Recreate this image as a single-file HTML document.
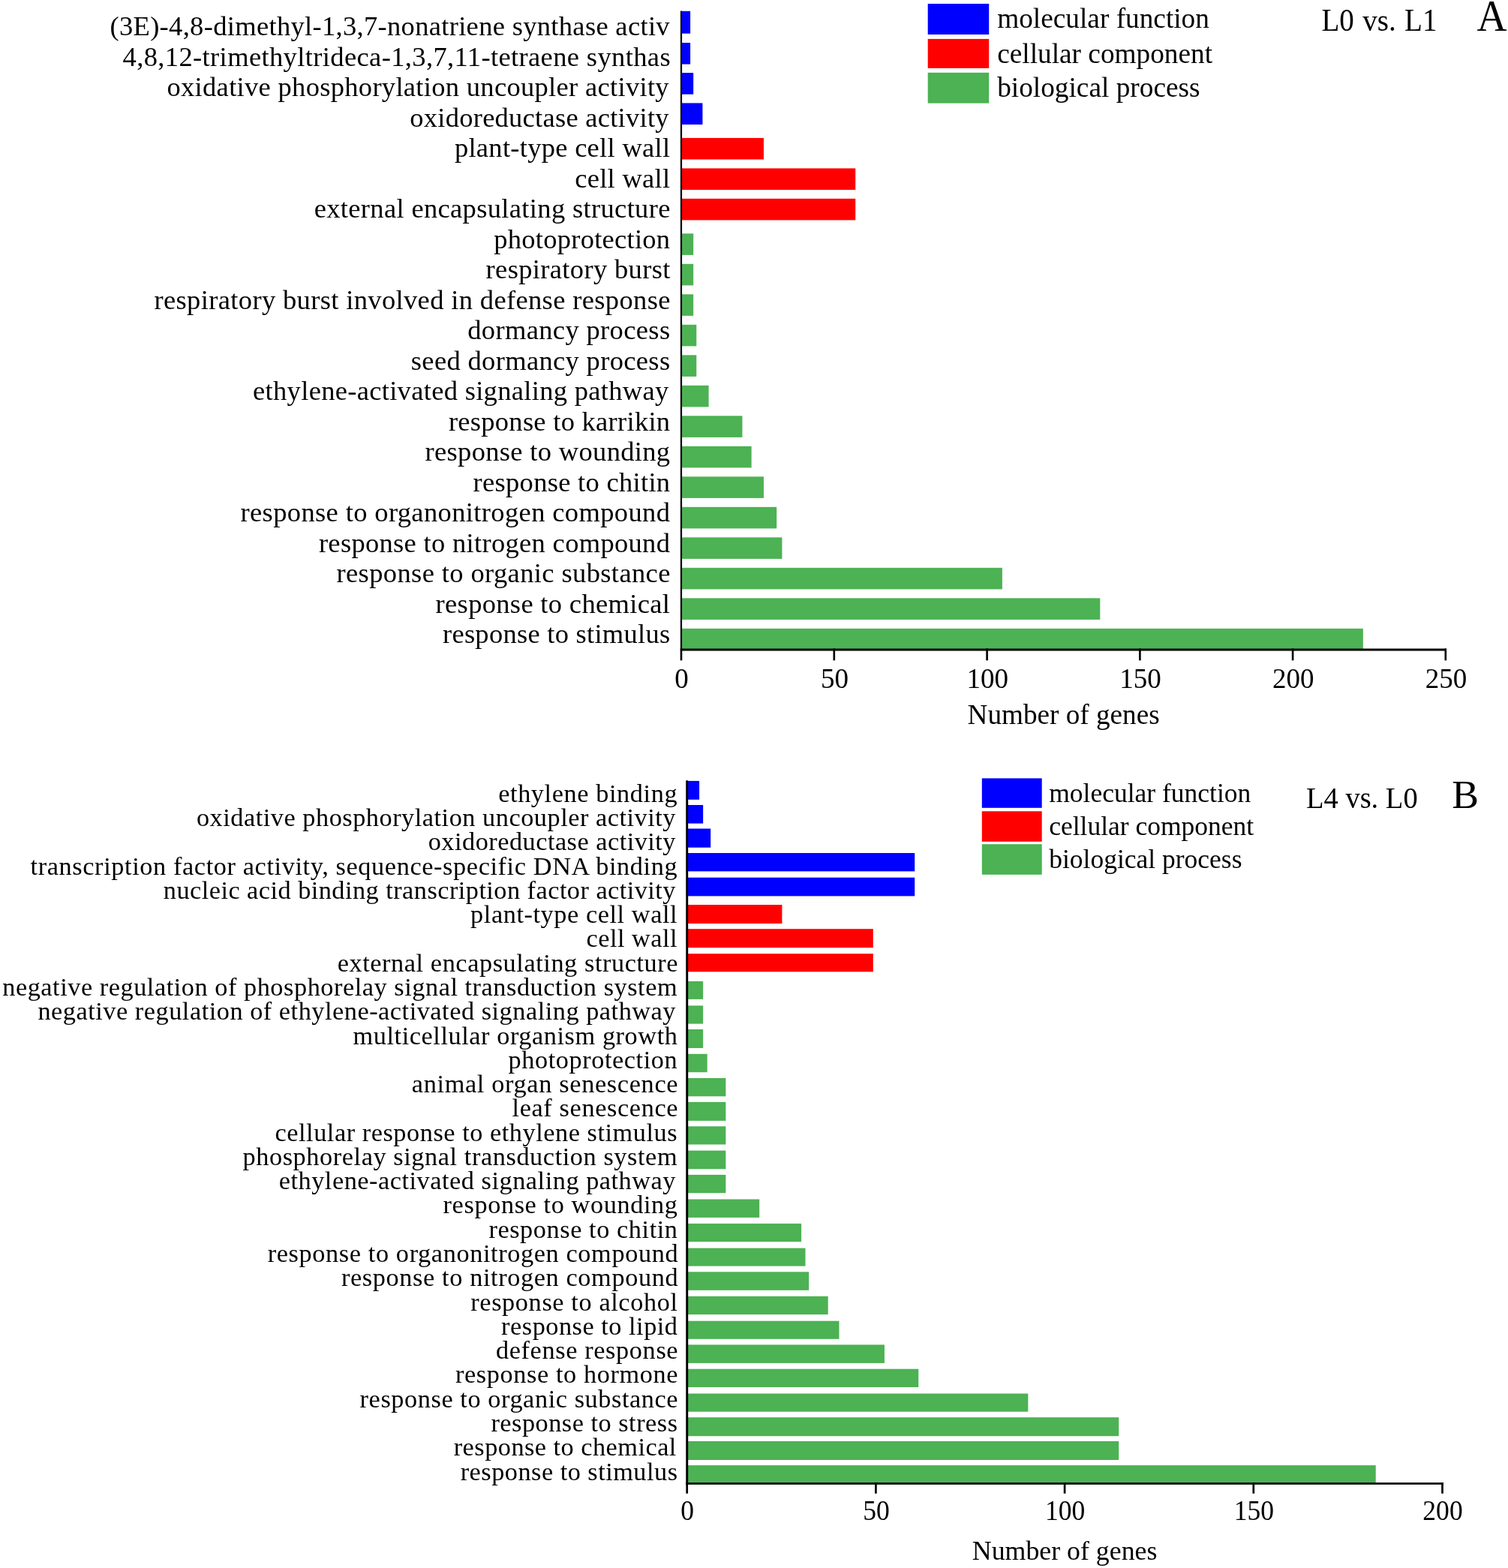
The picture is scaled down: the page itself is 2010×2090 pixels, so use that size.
<!DOCTYPE html>
<html lang="en">
<head>
<meta charset="utf-8">
<title>GO enrichment of differentially expressed genes</title>
<style>
html, body { margin: 0; padding: 0; background: #ffffff; }
body { width: 2010px; height: 2090px; overflow: hidden; }
svg { display: block; }
svg text { font-family: "Liberation Serif", serif; fill: #000000; }
</style>
</head>
<body>
<svg width="2010" height="2090" viewBox="0 0 2010 2090" role="img" aria-label="GO enrichment bar charts: L0 vs. L1 (A) and L4 vs. L0 (B)">
<rect x="0" y="0" width="2010" height="2090" fill="#ffffff"/>
<rect x="907.40" y="14.80" width="12.73" height="29.90" fill="#0000FF"/>
<rect x="907.40" y="57.00" width="12.73" height="28.60" fill="#0000FF"/>
<rect x="907.40" y="97.10" width="16.80" height="28.60" fill="#0000FF"/>
<rect x="907.40" y="137.40" width="29.03" height="28.60" fill="#0000FF"/>
<rect x="907.40" y="183.90" width="110.55" height="28.60" fill="#FF0000"/>
<rect x="907.40" y="224.40" width="232.83" height="28.60" fill="#FF0000"/>
<rect x="907.40" y="264.80" width="232.83" height="28.60" fill="#FF0000"/>
<rect x="907.40" y="311.30" width="16.80" height="28.60" fill="#4CB253"/>
<rect x="907.40" y="351.80" width="16.80" height="28.60" fill="#4CB253"/>
<rect x="907.40" y="392.30" width="16.80" height="28.60" fill="#4CB253"/>
<rect x="907.40" y="432.80" width="20.88" height="28.60" fill="#4CB253"/>
<rect x="907.40" y="473.30" width="20.88" height="28.60" fill="#4CB253"/>
<rect x="907.40" y="513.80" width="37.18" height="28.60" fill="#4CB253"/>
<rect x="907.40" y="554.30" width="82.02" height="28.60" fill="#4CB253"/>
<rect x="907.40" y="594.80" width="94.25" height="28.60" fill="#4CB253"/>
<rect x="907.40" y="635.30" width="110.55" height="28.60" fill="#4CB253"/>
<rect x="907.40" y="675.80" width="127.80" height="28.60" fill="#4CB253"/>
<rect x="907.40" y="716.30" width="135.01" height="28.60" fill="#4CB253"/>
<rect x="907.40" y="756.80" width="428.48" height="28.60" fill="#4CB253"/>
<rect x="907.40" y="797.30" width="558.91" height="28.60" fill="#4CB253"/>
<rect x="907.40" y="837.80" width="909.45" height="28.60" fill="#4CB253"/>
<rect x="906.90" y="14.60" width="2.20" height="852.90" fill="#000"/>
<rect x="906.90" y="864.50" width="1021.10" height="3.00" fill="#000"/>
<rect x="906.70" y="864.50" width="2.60" height="15.80" fill="#000"/>
<text x="908.60" y="917.20" font-size="37" text-anchor="middle">0</text>
<rect x="1110.50" y="864.50" width="2.60" height="15.80" fill="#000"/>
<text x="1112.40" y="917.20" font-size="37" text-anchor="middle">50</text>
<rect x="1314.30" y="864.50" width="2.60" height="15.80" fill="#000"/>
<text x="1316.20" y="917.20" font-size="37" text-anchor="middle">100</text>
<rect x="1518.10" y="864.50" width="2.60" height="15.80" fill="#000"/>
<text x="1520.00" y="917.20" font-size="37" text-anchor="middle">150</text>
<rect x="1721.80" y="864.50" width="2.60" height="15.80" fill="#000"/>
<text x="1723.70" y="917.20" font-size="37" text-anchor="middle">200</text>
<rect x="1925.50" y="864.50" width="2.60" height="15.80" fill="#000"/>
<text x="1927.40" y="917.20" font-size="37" text-anchor="middle">250</text>
<text x="1417.60" y="965.10" font-size="37.2" text-anchor="middle">Number of genes</text>
<text x="892.60" y="47.10" font-size="36.5" text-anchor="end" textLength="746.1" lengthAdjust="spacing">(3E)-4,8-dimethyl-1,3,7-nonatriene synthase activ</text>
<text x="893.60" y="87.61" font-size="36.5" text-anchor="end" textLength="730.0" lengthAdjust="spacing">4,8,12-trimethyltrideca-1,3,7,11-tetraene synthas</text>
<text x="891.60" y="128.12" font-size="36.5" text-anchor="end" textLength="669.1" lengthAdjust="spacing">oxidative phosphorylation uncoupler activity</text>
<text x="891.60" y="168.63" font-size="36.5" text-anchor="end" textLength="345.3" lengthAdjust="spacing">oxidoreductase activity</text>
<text x="893.10" y="209.14" font-size="36.5" text-anchor="end" textLength="287.2" lengthAdjust="spacing">plant-type cell wall</text>
<text x="893.10" y="249.65" font-size="36.5" text-anchor="end" textLength="126.9" lengthAdjust="spacing">cell wall</text>
<text x="893.40" y="290.16" font-size="36.5" text-anchor="end" textLength="474.7" lengthAdjust="spacing">external encapsulating structure</text>
<text x="893.10" y="330.67" font-size="36.5" text-anchor="end" textLength="234.8" lengthAdjust="spacing">photoprotection</text>
<text x="893.40" y="371.18" font-size="36.5" text-anchor="end" textLength="245.8" lengthAdjust="spacing">respiratory burst</text>
<text x="893.40" y="411.69" font-size="36.5" text-anchor="end" textLength="687.9" lengthAdjust="spacing">respiratory burst involved in defense response</text>
<text x="893.10" y="452.20" font-size="36.5" text-anchor="end" textLength="269.9" lengthAdjust="spacing">dormancy process</text>
<text x="893.10" y="492.71" font-size="36.5" text-anchor="end" textLength="345.3" lengthAdjust="spacing">seed dormancy process</text>
<text x="891.20" y="533.22" font-size="36.5" text-anchor="end" textLength="554.1" lengthAdjust="spacing">ethylene-activated signaling pathway</text>
<text x="893.10" y="573.73" font-size="36.5" text-anchor="end" textLength="295.2" lengthAdjust="spacing">response to karrikin</text>
<text x="893.10" y="614.24" font-size="36.5" text-anchor="end" textLength="326.6" lengthAdjust="spacing">response to wounding</text>
<text x="893.10" y="654.75" font-size="36.5" text-anchor="end" textLength="262.5" lengthAdjust="spacing">response to chitin</text>
<text x="892.90" y="695.26" font-size="36.5" text-anchor="end" textLength="572.4" lengthAdjust="spacing">response to organonitrogen compound</text>
<text x="892.90" y="735.77" font-size="36.5" text-anchor="end" textLength="468.0" lengthAdjust="spacing">response to nitrogen compound</text>
<text x="893.40" y="776.28" font-size="36.5" text-anchor="end" textLength="444.9" lengthAdjust="spacing">response to organic substance</text>
<text x="892.90" y="816.79" font-size="36.5" text-anchor="end" textLength="312.3" lengthAdjust="spacing">response to chemical</text>
<text x="893.20" y="857.30" font-size="36.5" text-anchor="end" textLength="303.2" lengthAdjust="spacing">response to stimulus</text>
<rect x="1236.70" y="5.00" width="81.50" height="41.00" fill="#0000FF"/>
<text x="1329.20" y="37.40" font-size="37.3" text-anchor="start">molecular function</text>
<rect x="1236.70" y="51.90" width="81.50" height="39.00" fill="#FF0000"/>
<text x="1329.20" y="83.50" font-size="37.3" text-anchor="start">cellular component</text>
<rect x="1236.70" y="96.80" width="81.50" height="40.80" fill="#4CB253"/>
<text x="1329.20" y="129.40" font-size="37.3" text-anchor="start">biological process</text>
<text transform="translate(1761.50 40.80) scale(0.9216 1)" font-size="42.4" text-anchor="start" word-spacing="1.7">L0 vs. L1</text>
<text transform="translate(1968.50 40.80) scale(0.9280 1)" font-size="59.8" text-anchor="start">A</text>
<rect x="914.80" y="1040.90" width="17.31" height="24.90" fill="#0000FF"/>
<rect x="914.80" y="1073.00" width="22.35" height="24.60" fill="#0000FF"/>
<rect x="914.80" y="1104.50" width="32.42" height="25.20" fill="#0000FF"/>
<rect x="914.80" y="1137.00" width="304.42" height="24.40" fill="#0000FF"/>
<rect x="914.80" y="1169.70" width="304.42" height="24.70" fill="#0000FF"/>
<rect x="914.80" y="1206.00" width="127.60" height="25.00" fill="#FF0000"/>
<rect x="914.80" y="1238.20" width="249.01" height="25.00" fill="#FF0000"/>
<rect x="914.80" y="1271.20" width="249.01" height="24.10" fill="#FF0000"/>
<rect x="914.80" y="1307.90" width="22.35" height="24.00" fill="#4CB253"/>
<rect x="914.80" y="1340.40" width="22.35" height="24.20" fill="#4CB253"/>
<rect x="914.80" y="1372.00" width="22.35" height="25.00" fill="#4CB253"/>
<rect x="914.80" y="1404.80" width="27.90" height="24.40" fill="#4CB253"/>
<rect x="914.80" y="1437.00" width="52.57" height="24.30" fill="#4CB253"/>
<rect x="914.80" y="1468.90" width="52.57" height="25.00" fill="#4CB253"/>
<rect x="914.80" y="1501.30" width="52.57" height="24.20" fill="#4CB253"/>
<rect x="914.80" y="1533.60" width="52.57" height="24.60" fill="#4CB253"/>
<rect x="914.80" y="1565.90" width="52.57" height="24.30" fill="#4CB253"/>
<rect x="914.80" y="1598.50" width="97.40" height="24.40" fill="#4CB253"/>
<rect x="914.80" y="1630.90" width="153.31" height="24.30" fill="#4CB253"/>
<rect x="914.80" y="1663.60" width="158.70" height="24.00" fill="#4CB253"/>
<rect x="914.80" y="1695.30" width="163.38" height="24.50" fill="#4CB253"/>
<rect x="914.80" y="1727.80" width="188.90" height="24.30" fill="#4CB253"/>
<rect x="914.80" y="1760.70" width="203.68" height="24.10" fill="#4CB253"/>
<rect x="914.80" y="1792.40" width="264.12" height="24.50" fill="#4CB253"/>
<rect x="914.80" y="1824.70" width="309.46" height="24.30" fill="#4CB253"/>
<rect x="914.80" y="1857.50" width="455.53" height="24.20" fill="#4CB253"/>
<rect x="914.80" y="1889.20" width="576.42" height="25.00" fill="#4CB253"/>
<rect x="914.80" y="1921.00" width="576.42" height="25.00" fill="#4CB253"/>
<rect x="914.80" y="1953.10" width="918.93" height="23.60" fill="#4CB253"/>
<rect x="914.30" y="1040.30" width="2.90" height="938.50" fill="#000"/>
<rect x="914.30" y="1976.10" width="1009.70" height="2.70" fill="#000"/>
<rect x="914.35" y="1976.10" width="2.70" height="14.60" fill="#000"/>
<text transform="translate(916.20 2026.00) scale(0.9600 1)" font-size="37" text-anchor="middle">0</text>
<rect x="1166.05" y="1976.10" width="2.70" height="14.60" fill="#000"/>
<text transform="translate(1167.90 2026.00) scale(0.9600 1)" font-size="37" text-anchor="middle">50</text>
<rect x="1417.75" y="1976.10" width="2.70" height="14.60" fill="#000"/>
<text transform="translate(1419.60 2026.00) scale(0.9600 1)" font-size="37" text-anchor="middle">100</text>
<rect x="1669.45" y="1976.10" width="2.70" height="14.60" fill="#000"/>
<text transform="translate(1671.30 2026.00) scale(0.9600 1)" font-size="37" text-anchor="middle">150</text>
<rect x="1921.15" y="1976.10" width="2.70" height="14.60" fill="#000"/>
<text transform="translate(1923.00 2026.00) scale(0.9600 1)" font-size="37" text-anchor="middle">200</text>
<text x="1419.10" y="2078.60" font-size="35.8" text-anchor="middle">Number of genes</text>
<text x="902.60" y="1068.70" font-size="34.3" text-anchor="end" textLength="238.4" lengthAdjust="spacing">ethylene binding</text>
<text x="900.50" y="1100.98" font-size="34.3" text-anchor="end" textLength="638.6" lengthAdjust="spacing">oxidative phosphorylation uncoupler activity</text>
<text x="900.50" y="1133.26" font-size="34.3" text-anchor="end" textLength="329.8" lengthAdjust="spacing">oxidoreductase activity</text>
<text x="902.60" y="1165.54" font-size="34.3" text-anchor="end" textLength="862.0" lengthAdjust="spacing">transcription factor activity, sequence-specific DNA binding</text>
<text x="900.50" y="1197.82" font-size="34.3" text-anchor="end" textLength="682.7" lengthAdjust="spacing">nucleic acid binding transcription factor activity</text>
<text x="902.60" y="1230.10" font-size="34.3" text-anchor="end" textLength="275.5" lengthAdjust="spacing">plant-type cell wall</text>
<text x="902.60" y="1262.38" font-size="34.3" text-anchor="end" textLength="121.1" lengthAdjust="spacing">cell wall</text>
<text x="903.50" y="1294.66" font-size="34.3" text-anchor="end" textLength="453.8" lengthAdjust="spacing">external encapsulating structure</text>
<text x="902.60" y="1326.94" font-size="34.3" text-anchor="end" textLength="899.4" lengthAdjust="spacing">negative regulation of phosphorelay signal transduction system</text>
<text x="900.50" y="1359.22" font-size="34.3" text-anchor="end" textLength="850.1" lengthAdjust="spacing">negative regulation of ethylene-activated signaling pathway</text>
<text x="902.90" y="1391.50" font-size="34.3" text-anchor="end" textLength="432.4" lengthAdjust="spacing">multicellular organism growth</text>
<text x="902.60" y="1423.78" font-size="34.3" text-anchor="end" textLength="225.0" lengthAdjust="spacing">photoprotection</text>
<text x="903.50" y="1456.06" font-size="34.3" text-anchor="end" textLength="354.7" lengthAdjust="spacing">animal organ senescence</text>
<text x="903.50" y="1488.34" font-size="34.3" text-anchor="end" textLength="221.0" lengthAdjust="spacing">leaf senescence</text>
<text x="902.60" y="1520.62" font-size="34.3" text-anchor="end" textLength="536.1" lengthAdjust="spacing">cellular response to ethylene stimulus</text>
<text x="902.60" y="1552.90" font-size="34.3" text-anchor="end" textLength="579.1" lengthAdjust="spacing">phosphorelay signal transduction system</text>
<text x="900.50" y="1585.18" font-size="34.3" text-anchor="end" textLength="528.8" lengthAdjust="spacing">ethylene-activated signaling pathway</text>
<text x="903.00" y="1617.46" font-size="34.3" text-anchor="end" textLength="312.4" lengthAdjust="spacing">response to wounding</text>
<text x="903.00" y="1649.74" font-size="34.3" text-anchor="end" textLength="251.6" lengthAdjust="spacing">response to chitin</text>
<text x="903.60" y="1682.02" font-size="34.3" text-anchor="end" textLength="546.9" lengthAdjust="spacing">response to organonitrogen compound</text>
<text x="903.60" y="1714.30" font-size="34.3" text-anchor="end" textLength="448.6" lengthAdjust="spacing">response to nitrogen compound</text>
<text x="903.00" y="1746.58" font-size="34.3" text-anchor="end" textLength="275.7" lengthAdjust="spacing">response to alcohol</text>
<text x="903.00" y="1778.86" font-size="34.3" text-anchor="end" textLength="234.9" lengthAdjust="spacing">response to lipid</text>
<text x="903.60" y="1811.14" font-size="34.3" text-anchor="end" textLength="242.7" lengthAdjust="spacing">defense response</text>
<text x="903.60" y="1843.42" font-size="34.3" text-anchor="end" textLength="296.7" lengthAdjust="spacing">response to hormone</text>
<text x="903.60" y="1875.70" font-size="34.3" text-anchor="end" textLength="424.0" lengthAdjust="spacing">response to organic substance</text>
<text x="903.00" y="1907.98" font-size="34.3" text-anchor="end" textLength="248.6" lengthAdjust="spacing">response to stress</text>
<text x="901.40" y="1940.26" font-size="34.3" text-anchor="end" textLength="296.7" lengthAdjust="spacing">response to chemical</text>
<text x="903.00" y="1972.54" font-size="34.3" text-anchor="end" textLength="289.3" lengthAdjust="spacing">response to stimulus</text>
<rect x="1308.80" y="1037.40" width="79.90" height="39.40" fill="#0000FF"/>
<text x="1398.20" y="1069.40" font-size="35.5" text-anchor="start">molecular function</text>
<rect x="1308.80" y="1081.30" width="79.90" height="40.50" fill="#FF0000"/>
<text x="1398.20" y="1113.30" font-size="35.5" text-anchor="start">cellular component</text>
<rect x="1308.80" y="1125.20" width="79.90" height="40.60" fill="#4CB253"/>
<text x="1398.20" y="1157.10" font-size="35.5" text-anchor="start">biological process</text>
<text transform="translate(1741.00 1076.80) scale(0.9460 1)" font-size="40.7" text-anchor="start">L4 vs. L0</text>
<text x="1935.30" y="1076.80" font-size="53.6" text-anchor="start">B</text>
</svg>
</body>
</html>
